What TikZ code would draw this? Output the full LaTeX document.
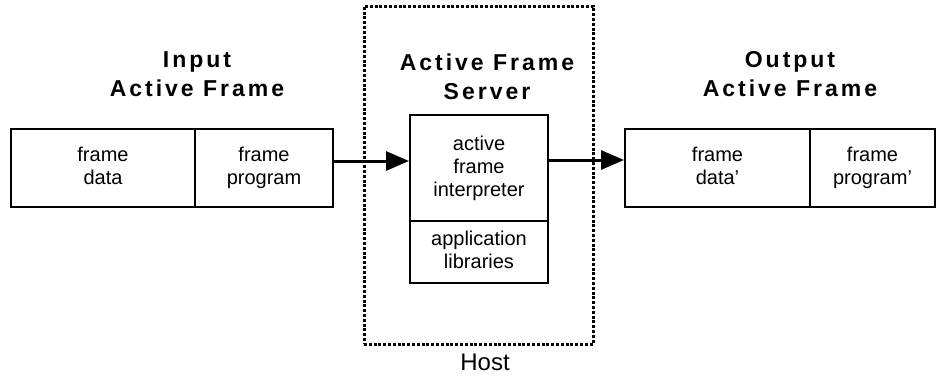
\documentclass[tikz,border=0pt]{standalone}
\usepackage{fontspec}
\setmainfont{Liberation Sans}
\newfontfamily\titlefont{Liberation Sans}[LetterSpace=13]
\usepackage{tikz}
\usetikzlibrary{arrows.meta,positioning,calc}

\begin{document}
\begin{tikzpicture}[x=1pt,y=-1pt,
    cell/.style={draw,line width=2pt,inner sep=0pt,align=center,
        font=\fontsize{20}{23}\selectfont,execute at end node=\vphantom{g}},
    title/.style={align=center,font=\titlefont\bfseries\fontsize{23}{29}\selectfont},
    flow/.style={line width=3pt,-{Triangle[length=23pt,width=19pt]}}]
    \useasboundingbox (0,0) rectangle (937,378);

    % Host
    \node[draw,line width=3pt,dash pattern=on 3pt off 1.8pt,minimum width=229pt,
        minimum height=338pt] (host) at (478.5,175) {};
    \node[font=\fontsize{24}{27}\selectfont] (hostlbl) at (485,362) {Host};

    % Input frame
    \node[title] (intitle) at (197,74) {Input\\Active Frame};
    \node[cell,minimum width=184pt,minimum height=78pt] (indata) at (103,168) {frame\\data};
    \node[cell,minimum width=138pt,minimum height=78pt] (inprog) at (264,168) {frame\\program};

    % Server
    \node[title] (srvtitle) at (487,77) {Active Frame\\Server};
    \node[cell,minimum width=138pt,minimum height=106pt] (interp) at (479,168) {active\\frame\\interpreter};
    \node[cell,minimum width=138pt,minimum height=62pt] (libs) at (479,252) {application\\libraries};

    % Output frame
    \node[title] (outtitle) at (790,74) {Output\\Active Frame};
    \node[cell,minimum width=185pt,minimum height=78pt] (outdata) at (717.5,168) {frame\\data'};
    \node[cell,minimum width=125pt,minimum height=78pt] (outprog) at (872.5,168) {frame\\program'};

    % Arrows
    \draw[flow] ([yshift=7pt]inprog.east) -- ([yshift=7pt]interp.west);
    \draw[flow] ([yshift=8pt]interp.east) -- ([yshift=8pt]outdata.west);
\end{tikzpicture}
\end{document}
